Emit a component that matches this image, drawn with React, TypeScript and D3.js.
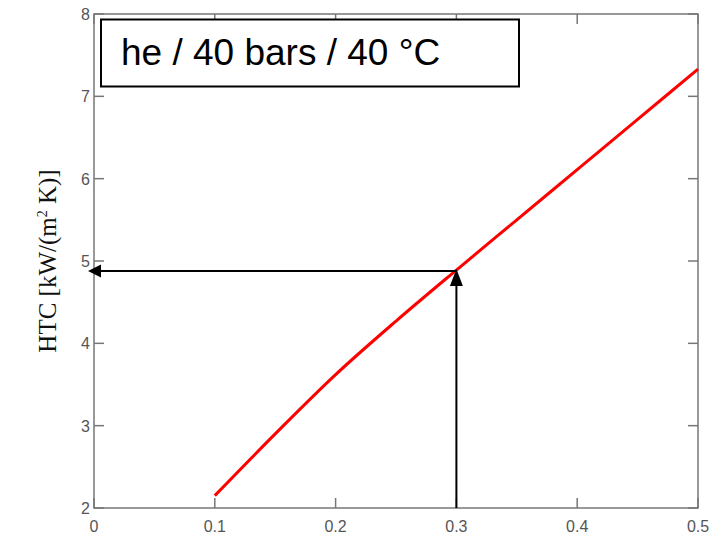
import React, { useEffect, useRef } from "react";
import * as d3 from "d3";

// HTC curve
const quality = [0.1, 0.15, 0.2, 0.25, 0.3, 0.35, 0.4, 0.45, 0.5];
const htc = [2.15, 2.9, 3.62, 4.27, 4.89, 5.5, 6.11, 6.72, 7.33];

const xTicks = [0, 0.1, 0.2, 0.3, 0.4, 0.5];
const yTicks = [2, 3, 4, 5, 6, 7, 8];

// the read-out shown by the arrows
const readX = 0.3;
const readY = 4.88;

const title = "he / 40 bars / 40 °C";

export default function App() {
  const svgRef = useRef<SVGSVGElement>(null);

  useEffect(() => {
    const width = 721;
    const height = 535;
    const svg = d3.select(svgRef.current).attr("width", width).attr("height", height);
    svg.selectAll("*").remove();

    const x = d3.scaleLinear().domain([0, 0.5]).range([94, 698]);
    const y = d3.scaleLinear().domain([2, 8]).range([508, 14]);

    const axisColor = "#777";
    const tickLen = 10;

    // frame
    svg
      .append("rect")
      .attr("x", x(0))
      .attr("y", y(8))
      .attr("width", x(0.5) - x(0))
      .attr("height", y(2) - y(8))
      .attr("fill", "none")
      .attr("stroke", axisColor)
      .attr("stroke-width", 1.5);

    // inward ticks on all four sides
    const ticks = svg.append("g").attr("stroke", axisColor).attr("stroke-width", 1.5);
    xTicks.forEach((t) => {
      ticks.append("line").attr("x1", x(t)).attr("x2", x(t)).attr("y1", y(2)).attr("y2", y(2) - tickLen);
      ticks.append("line").attr("x1", x(t)).attr("x2", x(t)).attr("y1", y(8)).attr("y2", y(8) + tickLen);
    });
    yTicks.forEach((t) => {
      ticks.append("line").attr("x1", x(0)).attr("x2", x(0) + tickLen).attr("y1", y(t)).attr("y2", y(t));
      ticks.append("line").attr("x1", x(0.5)).attr("x2", x(0.5) - tickLen).attr("y1", y(t)).attr("y2", y(t));
    });

    // tick labels
    const labelFont = "'Liberation Sans', Arial, sans-serif";
    svg
      .append("g")
      .selectAll("text")
      .data(xTicks)
      .join("text")
      .attr("x", (d) => x(d))
      .attr("y", 532)
      .attr("text-anchor", "middle")
      .attr("font-family", labelFont)
      .attr("font-size", 16)
      .attr("fill", "#555")
      .text((d) => String(d));
    svg
      .append("g")
      .selectAll("text")
      .data(yTicks)
      .join("text")
      .attr("x", 90)
      .attr("y", (d) => y(d) + 6)
      .attr("text-anchor", "end")
      .attr("font-family", labelFont)
      .attr("font-size", 16)
      .attr("fill", "#555")
      .text((d) => String(d));

    // y axis title
    svg
      .append("text")
      .attr("transform", `translate(56,${(y(2) + y(8)) / 2}) rotate(-90)`)
      .attr("text-anchor", "middle")
      .attr("font-family", "'Liberation Serif', 'Times New Roman', serif")
      .attr("font-size", 25)
      .attr("fill", "#111")
      .html("HTC [kW/(m<tspan dy='-9' font-size='14'>2</tspan><tspan dy='9'> K)]</tspan>");

    // curve
    const line = d3
      .line<number>()
      .x((_, i) => x(quality[i]))
      .y((d) => y(d))
      .curve(d3.curveMonotoneX);
    svg
      .append("path")
      .datum(htc)
      .attr("d", line)
      .attr("fill", "none")
      .attr("stroke", "#ff0000")
      .attr("stroke-width", 3);

    // arrows
    const arrows = svg.append("g").attr("stroke", "#000").attr("fill", "#000");
    const px = x(readX);
    const py = y(readY);
    const leftTip = x(0) - 6;
    arrows
      .append("line")
      .attr("x1", px)
      .attr("x2", leftTip + 12)
      .attr("y1", py)
      .attr("y2", py)
      .attr("stroke-width", 2);
    arrows
      .append("path")
      .attr("d", `M${leftTip},${py} L${leftTip + 13},${py - 6.5} L${leftTip + 13},${py + 6.5} Z`)
      .attr("stroke", "none");
    const upTip = py - 2;
    arrows
      .append("line")
      .attr("x1", px)
      .attr("x2", px)
      .attr("y1", y(2))
      .attr("y2", upTip + 14)
      .attr("stroke-width", 2);
    arrows
      .append("path")
      .attr("d", `M${px},${upTip} L${px - 6.5},${upTip + 17} L${px + 6.5},${upTip + 17} Z`)
      .attr("stroke", "none");

    // title box
    svg
      .append("rect")
      .attr("x", 101)
      .attr("y", 19.5)
      .attr("width", 418)
      .attr("height", 67)
      .attr("fill", "#fff")
      .attr("stroke", "#000")
      .attr("stroke-width", 2);
    svg
      .append("text")
      .attr("x", 121)
      .attr("y", 65)
      .attr("font-family", "'Liberation Sans', Arial, sans-serif")
      .attr("font-size", 37)
      .attr("fill", "#000")
      .text(title);
  }, []);

  return (
    <div style={{ position: "absolute", left: 0, top: 0 }}>
      <svg ref={svgRef} style={{ display: "block" }}></svg>
    </div>
  );
}
